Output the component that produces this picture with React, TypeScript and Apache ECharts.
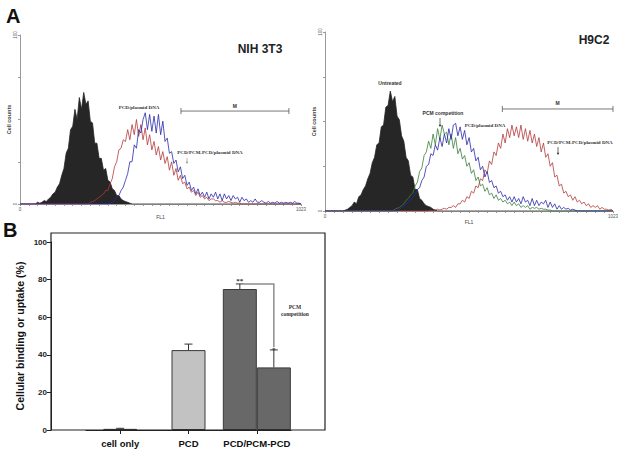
import React, { useEffect, useRef } from "react";
import * as echarts from "echarts";

// ---------- DATA ----------
const CH_STEP = 8; // channel width of each histogram value

// NIH 3T3 histograms (FL1 channel 0-1023, cell counts 0-100)
const nihUntreatedStart = 56;
const nihUntreated = [0, 1, 0.5, 1, 2, 1.5, 3, 4, 6, 7, 10, 12, 17, 21, 30, 33, 44, 46, 56, 50, 63, 56, 66, 59, 61, 49, 48, 36, 36, 27, 27, 20, 21, 14, 13, 9, 8, 5, 5, 3, 2, 1.5, 1, 0.5, 0];
const nihPcdStart = 248;
const nihPcd = [0, 1, 1.5, 2, 3, 4, 5, 6, 8, 8, 12, 15, 22, 25, 32, 33, 38, 37, 44, 38, 47, 41, 50, 40, 47, 38, 45, 35, 41, 32, 37, 29, 34, 26, 31, 24, 28, 20, 25, 17, 21, 14, 17, 12, 13, 9, 10, 7, 8, 5, 7, 4, 5, 3, 4, 2, 3, 3, 2, 2, 1, 2, 1, 1, 1.5, 1, 0.5, 1, 0.5, 0.5, 0];
const nihPcmPcdStart = 320;
const nihPcmPcd = [0, 0.5, 1, 2, 4, 5, 8, 10, 14, 18, 25, 25, 35, 33, 44, 42, 50, 54, 44, 53, 43, 52, 42, 53, 41, 49, 37, 39, 30, 31, 24, 26, 19, 22, 15, 17, 11, 13, 8, 10, 6, 9, 5, 7, 4, 7, 3, 6, 4, 7, 3, 6, 2, 6, 3, 5, 2, 5, 3, 4, 1, 4, 2, 3, 1, 2, 1, 3, 1, 1, 2, 1, 0.5, 1.5, 0.5, 1, 0.5, 1.5, 0.5, 1, 0.5, 1, 0.5, 1, 0.5, 1.5, 0.5, 0.5];

// H9C2 histograms
const h9UntreatedStart = 64;
const h9Untreated = [0, 0.5, 1, 2, 3, 5, 4, 8, 9, 12, 14, 18, 21, 27, 30, 37, 38, 47, 48, 58, 59, 67, 61, 64, 53, 51, 42, 39, 30, 28, 20, 19, 12, 12, 7, 6, 4, 3, 2.5, 2, 1, 0.5, 0];
const h9PcmStart = 240;
const h9Pcm = [0, 1, 1.5, 2, 3, 4, 6, 7, 9, 10, 14, 16, 22, 24, 31, 33, 39, 35, 43, 37, 46, 40, 48, 43, 44, 37, 43, 35, 41, 32, 35, 29, 31, 25, 27, 21, 23, 17, 19, 14, 15, 11, 13, 9, 10, 7, 9, 6, 7, 5, 6, 4, 5, 3, 5, 3, 4, 2, 3, 2, 3, 1, 2, 1.5, 2, 1, 1.5, 1, 1, 0.5, 0.5, 0];
const h9PcdStart = 256;
const h9Pcd = [0, 1, 2, 3, 4, 5, 6, 8, 9, 12, 13, 17, 19, 25, 26, 32, 31, 37, 34, 41, 36, 43, 38, 46, 40, 48, 49, 42, 47, 40, 45, 37, 41, 33, 35, 28, 30, 23, 25, 19, 22, 16, 17, 13, 14, 10, 11, 8, 9, 6, 8, 5, 8, 5, 7, 4, 8, 5, 6, 3, 7, 3, 6, 3, 5, 4, 6, 2, 5, 2, 4, 1, 3, 1, 2, 1, 1.5, 0.5, 1, 0.5, 0];
const h9PcmPcdStart = 368;
const h9PcmPcd = [0, 0.5, 0, 0.5, 1, 0.5, 1, 1.5, 1, 2, 2, 3, 2, 4, 4, 6, 5, 8, 7, 11, 10, 14, 13, 18, 17, 23, 21, 28, 26, 33, 31, 38, 35, 43, 38, 46, 41, 48, 42, 47, 41, 48, 40, 46, 39, 45, 38, 43, 36, 41, 33, 38, 30, 32, 25, 27, 19, 20, 14, 15, 10, 11, 8, 9, 6, 8, 5, 6, 4, 5, 3, 4, 2, 3, 2, 3, 1, 2, 1, 1, 0.5, 1];

// Gates "M": [start channel, end channel, counts level]
const nihGate = [[586, 979, 55]];
const h9Gate = [[630, 1023, 57]];

// Panel B
const barCategories = ["cell only", "PCD", "PCD/PCM-PCD"];
const singleValues = [0.6, 42.5, null];
const singleErrors = [0.3, 3.2, null];
const treatedValues = [null, null, 75];
const treatedErrors = [null, null, 2.7];
const competitionValues = [null, null, 33.3];
const competitionErrors = [null, null, 9.3];
const bracketLevels = [[2, 77.7, 44]]; // [category, top, end]
const yTicksB = [0, 20, 40, 60, 80, 100];

// ---------- STYLE ----------
const SANS = '"Liberation Sans", Arial, sans-serif';
const SERIF = '"Liberation Serif", "Times New Roman", serif';
const BAR_W = 34;
const CAP = 4;

function hist(start: number, vals: number[]): number[][] {
  const pts: number[][] = [[0, 0]];
  vals.forEach((v, i) => pts.push([start + i * CH_STEP, v]));
  pts.push([1023, 0]);
  return pts;
}

function histX(gridIndex: number, nameGap: number) {
  return {
    type: "value", gridIndex, min: 0, max: 1023, interval: 32,
    name: "FL1", nameLocation: "middle", nameGap,
    nameTextStyle: { fontSize: 5, color: "#444", fontFamily: SANS },
    axisLine: { show: true, lineStyle: { color: "#9a9a9a", width: 1 } },
    axisTick: { show: true, length: 2, lineStyle: { color: "#9a9a9a" } },
    axisLabel: {
      show: true, fontSize: 4.5, color: "#555", margin: 3, fontFamily: SANS,
      showMinLabel: true, showMaxLabel: true,
      formatter: (v: number) => (v === 0 || v === 1023 ? String(v) : ""),
    },
    splitLine: { show: false },
  };
}

function histY(gridIndex: number, nameGap: number) {
  return {
    type: "value", gridIndex, min: 0, max: 100, interval: 25,
    name: "Cell counts", nameLocation: "middle", nameRotate: 90, nameGap,
    nameTextStyle: { fontSize: 5.5, color: "#444", fontWeight: "bold", fontFamily: SANS },
    axisLine: { show: true, lineStyle: { color: "#9a9a9a", width: 1 } },
    axisTick: { show: true, length: 2, lineStyle: { color: "#9a9a9a" } },
    axisLabel: {
      show: true, fontSize: 4.5, color: "#555", margin: 2, rotate: 90, fontFamily: SANS,
      formatter: (v: number) => (v === 0 || v === 100 ? String(v) : ""),
    },
    splitLine: { show: false },
  };
}

function line(name: string, data: number[][], color: string, xi: number, area = false) {
  return {
    name, type: "line", xAxisIndex: xi, yAxisIndex: xi, data,
    showSymbol: false, symbol: "none", silent: true,
    lineStyle: { color, width: 0.8 },
    areaStyle: area ? { color, opacity: 1 } : undefined,
  };
}

function gate(data: number[][], xi: number) {
  return {
    type: "custom", xAxisIndex: xi, yAxisIndex: xi, data, silent: true, z: 4,
    encode: { x: [0, 1], y: 2 },
    renderItem: (_p: any, api: any) => {
      const a = api.coord([api.value(0), api.value(2)]);
      const b = api.coord([api.value(1), api.value(2)]);
      const st = { stroke: "#555", lineWidth: 0.8 };
      return {
        type: "group",
        children: [
          { type: "line", shape: { x1: a[0], y1: a[1], x2: b[0], y2: b[1] }, style: st },
          { type: "line", shape: { x1: a[0], y1: a[1] - 3, x2: a[0], y2: a[1] + 3 }, style: st },
          { type: "line", shape: { x1: b[0], y1: b[1] - 3, x2: b[0], y2: b[1] + 3 }, style: st },
          {
            type: "text",
            style: { text: "M", x: (a[0] + b[0]) / 2, y: a[1] - 3, align: "center", verticalAlign: "bottom", font: `bold 5px ${SANS}`, fill: "#333" },
          },
        ],
      };
    },
  };
}

function txt(text: string, x: number, y: number, font: string, extra: any = {}) {
  return {
    type: "text", x, y, z: 100, rotation: extra.rotation || 0, silent: true,
    style: { text, font, fill: extra.fill || "#222", align: extra.align || "center", verticalAlign: extra.va || "middle" },
  };
}

function arrow(x: number, y1: number, y2: number, color: string) {
  return {
    type: "group", z: 100, silent: true,
    children: [
      { type: "line", shape: { x1: x, y1, x2: x, y2: y2 - 1 }, style: { stroke: color, lineWidth: 0.7 } },
      { type: "polygon", shape: { points: [[x - 1.3, y2 - 2.2], [x + 1.3, y2 - 2.2], [x, y2]] }, style: { fill: color } },
    ],
  };
}

export default function App() {
  const ref = useRef<HTMLDivElement>(null);
  useEffect(() => {
    if (!ref.current) return;
    const chart = echarts.init(ref.current, undefined, { renderer: "svg" });

    const errData: any[] = [];
    singleValues.forEach((v, i) => { if (v != null) errData.push([i, v, singleErrors[i], 0]); });
    treatedValues.forEach((v, i) => { if (v != null) errData.push([i, v, treatedErrors[i], -1]); });
    competitionValues.forEach((v, i) => { if (v != null) errData.push([i, v, competitionErrors[i], 1]); });

    const option: any = {
      animation: false,
      backgroundColor: "#ffffff",
      grid: [
        { left: 20, top: 35, width: 281, height: 169 },
        { left: 325, top: 32, width: 288, height: 179 },
        { left: 86, top: 242, width: 205, height: 188 },
      ],
      xAxis: [
        histX(0, 10),
        histX(1, 7),
        {
          type: "category", gridIndex: 2, data: barCategories,
          axisLine: { show: true, lineStyle: { color: "#222", width: 1 } },
          axisTick: { show: true, alignWithLabel: true, length: 4, interval: 0, lineStyle: { color: "#222" } },
          axisLabel: { interval: 0, fontSize: 9.5, fontWeight: "bold", color: "#111", margin: 8, fontFamily: SANS },
        },
        { type: "category", gridIndex: 2, data: barCategories, show: false },
      ],
      yAxis: [
        histY(0, 5),
        histY(1, 5),
        {
          type: "value", gridIndex: 2, min: 0, max: 100, interval: 20, offset: 35,
          name: "Cellular binding or uptake (%)", nameLocation: "middle", nameRotate: 90, nameGap: 26,
          nameTextStyle: { fontSize: 10.5, fontWeight: "bold", color: "#111", fontFamily: SANS },
          axisLine: { show: true, lineStyle: { color: "#222", width: 1 } },
          axisTick: { show: true, length: 4, lineStyle: { color: "#222" } },
          axisLabel: {
            fontSize: 8, fontWeight: "bold", color: "#222", margin: 4, fontFamily: SANS,
            formatter: (v: number) => (yTicksB.includes(v) ? String(v) : ""),
          },
          splitLine: { show: false },
        },
      ],
      series: [
        line("NIH untreated", hist(nihUntreatedStart, nihUntreated), "#262626", 0, true),
        line("NIH PCD/plasmid DNA", hist(nihPcdStart, nihPcd), "#b23b3b", 0),
        line("NIH PCD/PCM-PCD/plasmid DNA", hist(nihPcmPcdStart, nihPcmPcd), "#2a2aa8", 0),
        gate(nihGate, 0),
        line("H9C2 untreated", hist(h9UntreatedStart, h9Untreated), "#262626", 1, true),
        line("H9C2 PCD/PCM-PCD/plasmid DNA", hist(h9PcmPcdStart, h9PcmPcd), "#b23b3b", 1),
        line("H9C2 PCM competition", hist(h9PcmStart, h9Pcm), "#3b7d3b", 1),
        line("H9C2 PCD/plasmid DNA", hist(h9PcdStart, h9Pcd), "#2a2aa8", 1),
        gate(h9Gate, 1),
        {
          name: "single", type: "bar", xAxisIndex: 2, yAxisIndex: 2, barWidth: BAR_W,
          data: singleValues,
          itemStyle: { color: "#c2c2c2", borderColor: "#3a3a3a", borderWidth: 1 },
        },
        {
          name: "PCD/PCM-PCD", type: "bar", xAxisIndex: 3, yAxisIndex: 2, barWidth: BAR_W, barGap: "0%",
          data: treatedValues,
          itemStyle: { color: "#686868", borderColor: "#3a3a3a", borderWidth: 1 },
        },
        {
          name: "PCM competition", type: "bar", xAxisIndex: 3, yAxisIndex: 2, barWidth: BAR_W, barGap: "0%",
          data: competitionValues,
          itemStyle: { color: "#686868", borderColor: "#3a3a3a", borderWidth: 1 },
        },
        {
          type: "custom", xAxisIndex: 3, yAxisIndex: 2, data: errData, z: 5, silent: true,
          encode: { x: 0, y: 1 },
          renderItem: (_p: any, api: any) => {
            const c = api.value(0), v = api.value(1), e = api.value(2), slot = api.value(3);
            const base = api.coord([c, v]);
            const top = api.coord([c, v + e]);
            const x = base[0] + (slot * BAR_W) / 2;
            const st = { stroke: "#333", lineWidth: 1 };
            return {
              type: "group",
              children: [
                { type: "line", shape: { x1: x, y1: base[1], x2: x, y2: top[1] }, style: st },
                { type: "line", shape: { x1: x - CAP, y1: top[1], x2: x + CAP, y2: top[1] }, style: st },
              ],
            };
          },
        },
        {
          type: "custom", xAxisIndex: 3, yAxisIndex: 2, data: bracketLevels, z: 6, silent: true,
          encode: { x: 0, y: [1, 2] },
          renderItem: (_p: any, api: any) => {
            const c = api.value(0);
            const t = api.coord([c, api.value(1)]);
            const e = api.coord([c, api.value(2)]);
            const xl = t[0] - BAR_W / 2 + 4;
            const xr = t[0] + BAR_W / 2;
            return {
              type: "group",
              children: [
                { type: "polyline", shape: { points: [[xl, t[1]], [xr, t[1]], [xr, e[1]]] }, style: { stroke: "#8c8c8c", lineWidth: 1.5, fill: null } },
                { type: "text", style: { text: "**", x: t[0] - BAR_W / 2, y: t[1] + 1, align: "center", verticalAlign: "bottom", font: `bold 7px ${SERIF}`, fill: "#333" } },
                { type: "text", style: { text: "*", x: xr, y: e[1] + 3, align: "center", verticalAlign: "middle", font: `bold 7px ${SERIF}`, fill: "#333" } },
              ],
            };
          },
        },
      ],
      graphic: [
        txt("A", 6, 16, `bold 20px ${SANS}`, { align: "left", fill: "#111" }),
        txt("B", 3, 230, `bold 20px ${SANS}`, { align: "left", fill: "#111" }),
        txt("NIH 3T3", 260, 49, `bold 12px ${SANS}`),
        txt("H9C2", 594, 40, `bold 12px ${SANS}`),
        txt("PCD/plasmid DNA", 139, 107, `bold 5px ${SERIF}`, { fill: "#333" }),
        txt("PCD/PCM-PCD/plasmid DNA", 210, 152, `bold 5px ${SERIF}`, { fill: "#333" }),
        arrow(187, 158, 164, "#999"),
        txt("Untreated", 390, 83, `bold 5px ${SANS}`, { fill: "#333" }),
        txt("PCM competition", 443, 113, `bold 5px ${SANS}`, { fill: "#333" }),
        arrow(440, 118, 127, "#333"),
        txt("PCD/plasmid DNA", 485, 125, `bold 5px ${SERIF}`, { fill: "#333" }),
        txt("PCD/PCM-PCD/plasmid DNA", 580, 142, `bold 5px ${SERIF}`, { fill: "#333" }),
        arrow(558, 147, 155, "#333"),
        txt("PCM", 295, 307, `bold 5.5px ${SERIF}`, { fill: "#333" }),
        txt("competition", 295, 314, `bold 5.5px ${SERIF}`, { fill: "#333" }),
        {
          type: "rect", z: 50, silent: true,
          shape: { x: 51, y: 233, width: 274, height: 197 },
          style: { fill: "none", stroke: "#222", lineWidth: 1.2 },
        },
      ],
    };
    chart.setOption(option);
    return () => chart.dispose();
  }, []);

  return <div ref={ref} style={{ position: "absolute", left: 0, top: 0, width: 621, height: 450 }} />;
}
